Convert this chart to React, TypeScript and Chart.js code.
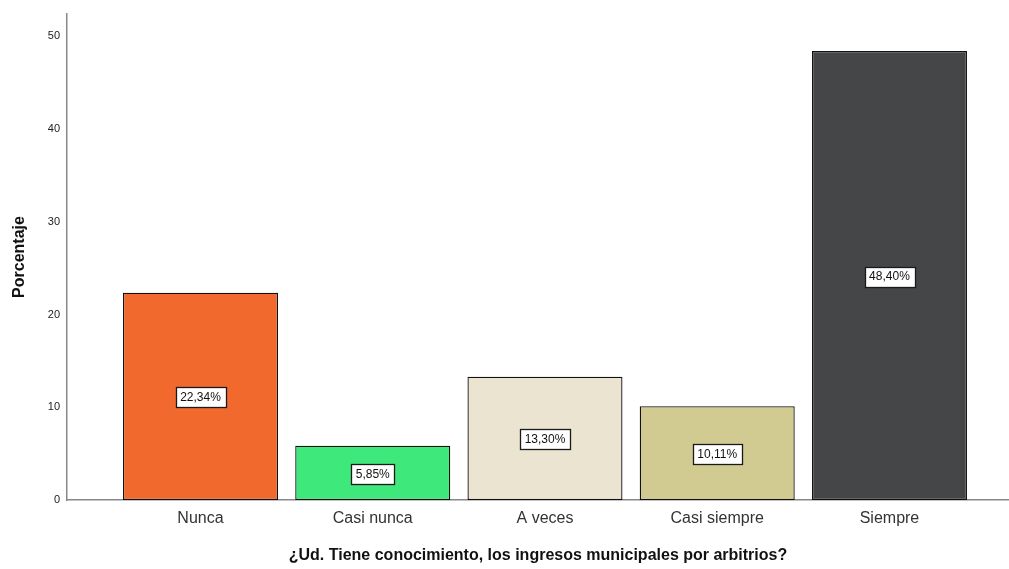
import React, { useEffect, useRef } from "react";
import { Chart, registerables } from "chart.js";

Chart.register(...registerables);

const categories = ["Nunca", "Casi nunca", "A veces", "Casi siempre", "Siempre"];
const percentages = [22.34, 5.85, 13.3, 10.11, 48.4];
const barColors = ["#F2692D", "#3FE87B", "#EBE4D1", "#D1CB91", "#454648"];
const yTicks = [0, 10, 20, 30, 40, 50];
const yTitle = "Porcentaje";
const xTitle = "¿Ud. Tiene conocimiento, los ingresos municipales por arbitrios?";

const FONT = "'Liberation Sans', Arial, sans-serif";

const labelPlugin = {
  id: "boxLabels",
  afterDatasetsDraw(chart: any) {
    const ctx = chart.ctx;
    const meta = chart.getDatasetMeta(0);
    ctx.save();
    ctx.font = `12px ${FONT}`;
    ctx.textAlign = "center";
    ctx.textBaseline = "middle";
    meta.data.forEach((el: any, i: number) => {
      const v = percentages[i];
      const text = v.toFixed(2).replace(".", ",") + "%";
      const w = ctx.measureText(text).width + 9;
      const h = 20;
      const cx = el.x;
      const cy = (el.y + el.base) / 2 + 1;
      const x0 = Math.round(cx - w / 2) + 0.5;
      const y0 = Math.round(cy - h / 2) + 0.5;
      ctx.fillStyle = "#ffffff";
      ctx.fillRect(x0, y0, Math.round(w), h);
      ctx.strokeStyle = "#1a1a1a";
      ctx.lineWidth = 1.3;
      ctx.strokeRect(x0, y0, Math.round(w), h);
      ctx.fillStyle = "#111111";
      ctx.fillText(text, cx, cy + 0.5);
    });
    ctx.restore();
  },
};

export default function App() {
  const ref = useRef<HTMLCanvasElement | null>(null);
  useEffect(() => {
    if (!ref.current) return;
    const chart = new Chart(ref.current, {
      type: "bar",
      data: {
        datasets: [
          {
            data: categories.map((c, i) => ({ x: i, y: percentages[i] })),
            backgroundColor: barColors,
            borderColor: "#111111",
            borderWidth: 1.3,
            borderSkipped: false,
            barPercentage: 0.9,
            categoryPercentage: 1,
          },
        ],
      },
      options: {
        responsive: false,
        animation: false,
        layout: { padding: { top: 14, right: 0, bottom: 0, left: 0 } },
        plugins: { legend: { display: false }, tooltip: { enabled: false } },
        scales: {
          x: {
            type: "linear",
            offset: false,
            min: -0.775,
            max: 4.694,
            grid: { display: false, drawTicks: false, offset: false },
            border: { display: true, color: "#888888", width: 1.5 },
            afterFit: (s: any) => {
              s.height = 69;
            },
            afterBuildTicks: (s: any) => {
              s.ticks = categories.map((_, i) => ({ value: i }));
            },
            ticks: {
              autoSkip: false,
              maxRotation: 0,
              padding: 9,
              color: "#333333",
              font: { family: FONT, size: 16 },
              callback: (v: any) => categories[v] ?? "",
            },
            title: {
              display: true,
              text: xTitle,
              color: "#111111",
              font: { family: FONT, size: 16, weight: "bold" },
              padding: { top: 0, bottom: 4 },
            },
          },
          y: {
            min: 0,
            max: 52.4,
            grid: { display: false, drawTicks: false },
            border: { display: true, color: "#888888", width: 1.5 },
            afterFit: (s: any) => {
              s.width = 67;
            },
            afterBuildTicks: (s: any) => {
              s.ticks = yTicks.map((v) => ({ value: v }));
            },
            ticks: {
              padding: 7,
              color: "#222222",
              font: { family: FONT, size: 11 },
            },
            title: {
              display: true,
              text: yTitle,
              color: "#111111",
              font: { family: FONT, size: 16, weight: "bold" },
              padding: { top: 10, bottom: 0 },
            },
          },
        },
      },
      plugins: [labelPlugin],
    } as any);
    return () => chart.destroy();
  }, []);
  return (
    <div style={{ position: "absolute", left: 0, top: 0, width: 1009, height: 569, background: "#fff" }}>
      <canvas ref={ref} width={1009} height={569} style={{ display: "block" }} />
    </div>
  );
}
